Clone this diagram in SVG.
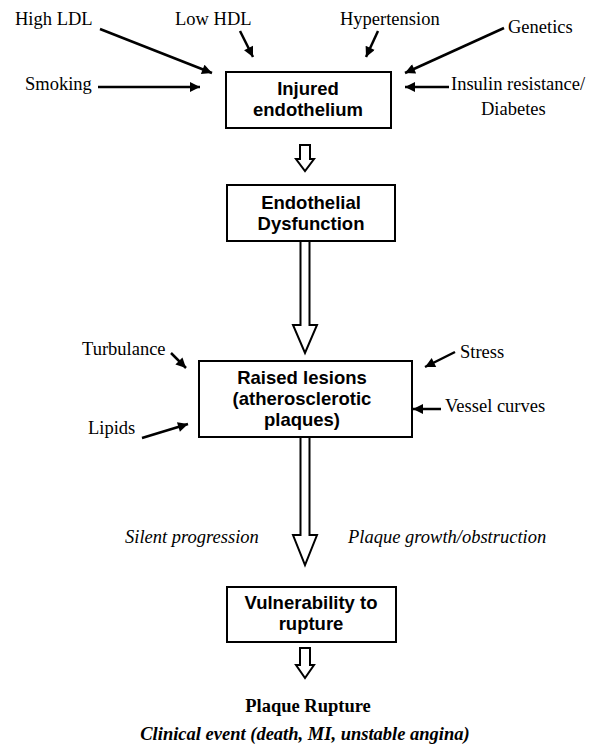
<svg xmlns="http://www.w3.org/2000/svg" width="602" height="749" viewBox="0 0 602 749">
  <style>
    .box { fill: #fff; stroke: #000; stroke-width: 2; }
    .btxt { font-family: "Liberation Sans", Arial, sans-serif; font-weight: bold; font-size: 18.5px; text-anchor: middle; fill: #000; }
    .lab { font-family: "Liberation Serif", "Times New Roman", serif; font-size: 18.5px; fill: #000; }
    .it { font-style: italic; }
    .bold { font-weight: bold; }
    .mid { text-anchor: middle; }
    .wire { stroke: #000; stroke-width: 2.5; fill: none; marker-end: url(#ah); }
    .flow { fill: #fff; stroke: #000; stroke-width: 2; stroke-linejoin: miter; }
  </style>
  <defs>
    <marker id="ah" viewBox="0 0 10 10" refX="10" refY="5" markerWidth="12" markerHeight="10" markerUnits="userSpaceOnUse" orient="auto">
      <path d="M0,0 L10,5 L0,10 Z" fill="#000"/>
    </marker>
  </defs>
  <rect width="602" height="749" fill="#fff"/>

  <!-- risk factor labels -->
  <g id="risk-factors" class="lab">
    <text x="15" y="25">High LDL</text>
    <text x="175" y="25">Low HDL</text>
    <text x="340" y="25">Hypertension</text>
    <text x="508" y="33">Genetics</text>
    <text x="25" y="90">Smoking</text>
    <text x="451" y="90">Insulin resistance/</text>
    <text x="481" y="115">Diabetes</text>
  </g>

  <!-- local factors around the lesion -->
  <g id="local-factors" class="lab">
    <text x="82" y="355">Turbulance</text>
    <text x="460" y="358">Stress</text>
    <text x="445" y="412">Vessel curves</text>
    <text x="88" y="434">Lipids</text>
  </g>

  <g id="progress-labels" class="lab it">
    <text x="125" y="543">Silent progression</text>
    <text x="348" y="543">Plaque growth/obstruction</text>
  </g>

  <!-- nodes -->
  <g id="injured-endothelium">
    <rect class="box" x="226" y="72" width="165" height="56"/>
    <text class="btxt" x="308" y="95">Injured</text>
    <text class="btxt" x="308" y="116">endothelium</text>
  </g>
  <g id="endothelial-dysfunction">
    <rect class="box" x="227" y="185" width="168" height="56"/>
    <text class="btxt" x="311" y="209">Endothelial</text>
    <text class="btxt" x="311" y="230">Dysfunction</text>
  </g>
  <g id="raised-lesions">
    <rect class="box" x="199" y="361" width="213" height="76"/>
    <text class="btxt" x="302" y="384">Raised lesions</text>
    <text class="btxt" x="302" y="405">(atherosclerotic</text>
    <text class="btxt" x="302" y="426">plaques)</text>
  </g>
  <g id="vulnerability">
    <rect class="box" x="227" y="587" width="169" height="55"/>
    <text class="btxt" x="311" y="609">Vulnerability to</text>
    <text class="btxt" x="311" y="630">rupture</text>
  </g>
  <g id="plaque-rupture" class="lab bold">
    <text class="mid" x="308" y="712">Plaque Rupture</text>
  </g>
  <g id="clinical-event" class="lab bold it">
    <text class="mid" x="305" y="740">Clinical event (death, MI, unstable angina)</text>
  </g>

  <!-- connectors -->
  <g id="connectors">
    <line class="wire" x1="100" y1="29" x2="212" y2="73"/>
    <line class="wire" x1="240" y1="31" x2="253" y2="57"/>
    <line class="wire" x1="378" y1="31" x2="366" y2="57"/>
    <line class="wire" x1="504" y1="28" x2="405" y2="73"/>
    <line class="wire" x1="98" y1="87" x2="200" y2="87"/>
    <line class="wire" x1="449" y1="87" x2="405" y2="87"/>
    <line class="wire" x1="171" y1="353" x2="186" y2="368"/>
    <line class="wire" x1="455" y1="352" x2="425" y2="367"/>
    <line class="wire" x1="441" y1="409" x2="413" y2="409"/>
    <line class="wire" x1="142" y1="438" x2="188" y2="424"/>

    <!-- hollow flow arrows down the main sequence -->
    <path class="flow" d="M300,145 H310 V159 H314 L305,171 L296,159 H300 Z"/>
    <path class="flow" d="M300.5,241 H309.5 V325 H317 L305,353 L293,325 H300.5 Z"/>
    <path class="flow" d="M300.5,437 H309.5 V535 H317 L305,565 L293,535 H300.5 Z"/>
    <path class="flow" d="M300,648 H310 V665 H314 L305,678 L296,665 H300 Z"/>
  </g>
</svg>
